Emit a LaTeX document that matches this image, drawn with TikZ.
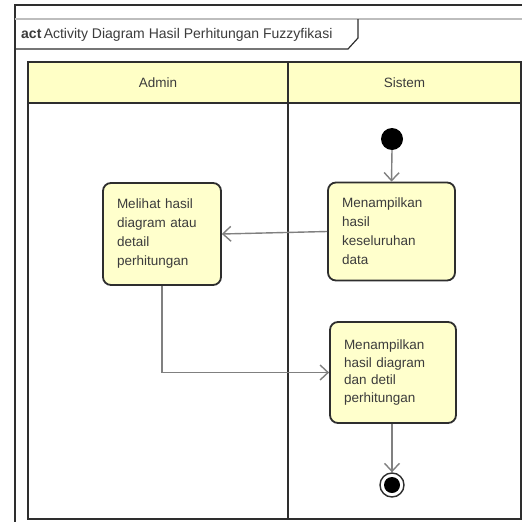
\documentclass[tikz,border=0pt]{standalone}
\usepackage{fontspec}
\setmainfont{Liberation Sans}
\usetikzlibrary{arrows.meta}
\definecolor{laneyellow}{HTML}{FFFFC6}
\definecolor{actyellow}{HTML}{FFFFCC}
\definecolor{inkdark}{HTML}{2E2E2E}
\definecolor{textgray}{HTML}{3C3C3C}
\definecolor{flowgray}{HTML}{808080}
\definecolor{framegray}{HTML}{BDBDBD}
\tikzset{
  frameline/.style={draw=inkdark, line width=1.6pt},
  laneline/.style={draw=inkdark, line width=2pt},
  lanehead/.style={fill=laneyellow, draw=inkdark, line width=2pt},
  action/.style={draw=inkdark, fill=actyellow, line width=1.8pt, rounded corners=8pt,
    inner xsep=14pt, inner ysep=4pt, align=left, text=textgray,
    font=\fontsize{13.5}{19}\selectfont},
  flow/.style={draw=flowgray, line width=1.4pt,
    -{Straight Barb[length=8pt,width=15pt,line width=1.4pt]}},
  lanelabel/.style={text=textgray, font=\fontsize{13.5}{16}\selectfont},
}
\begin{document}
\begin{tikzpicture}[x=1pt,y=-1pt]
  \useasboundingbox (0,0) rectangle (522,522);
  \fill[white] (0,0) rectangle (522,522);

  % diagram frame with its name tab
  \draw[frameline] (15,522) -- (15,5) -- (524,5);
  \draw[draw=framegray, line width=1.6pt] (15,19) -- (524,19);
  \draw[draw=inkdark, line width=1.2pt] (15,49) -- (348,49) -- (358,38) -- (358,19);
  \node[anchor=west, text=textgray, font=\fontsize{14}{16}\selectfont, inner sep=0pt]
    (title) at (21,35) {\textbf{act}\,Activity Diagram Hasil Perhitungan Fuzzyfikasi};

  % swimlanes
  \draw[lanehead] (28,62) rectangle (288,103);
  \draw[lanehead] (288,62) rectangle (521,103);
  \node[lanelabel] (admin) at (158,83) {Admin};
  \node[lanelabel] (sistem) at (404.5,83) {Sistem};
  \draw[laneline] (28,103) -- (28,519) -- (521,519) -- (521,103);
  \draw[laneline] (288,103) -- (288,519);

  % activity nodes
  \fill[black] (392,139) circle (11);
  \coordinate (start) at (392,150);
  \node[action, minimum width=127pt, minimum height=98pt, text width=99pt]
    (tampilData) at (391.5,231.5) {Menampilkan\\hasil\\keseluruhan\\data};
  \node[action, minimum width=118pt, minimum height=102pt, text width=90pt]
    (lihatHasil) at (162,234) {Melihat hasil\\diagram atau\\detail\\perhitungan};
  \node[action, minimum width=126pt, minimum height=101pt, text width=98pt, font=\fontsize{13.5}{17.5}\selectfont]
    (tampilDiagram) at (393,372.5) {Menampilkan\\hasil diagram\\dan detil\\perhitungan};
  \node[circle, draw=inkdark, line width=1.4pt, fill=white, minimum size=24pt, inner sep=0pt]
    (finish) at (392,485) {};
  \fill[black] (finish.center) circle (8);

  % control flows
  \draw[flow] (start) -- (tampilData.north);
  \draw[flow] (tampilData.west) -- (lihatHasil.east);
  \draw[flow] (lihatHasil.south) |- (tampilDiagram.west);
  \draw[flow] (tampilDiagram.south -| finish.north) -- (finish.north);
\end{tikzpicture}
\end{document}
